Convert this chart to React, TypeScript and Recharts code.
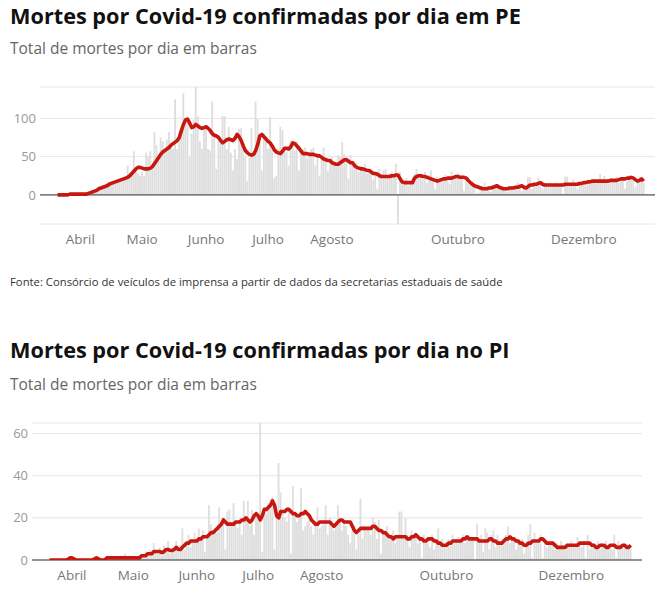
import React from 'react';
import { ComposedChart, Bar, Line, XAxis, YAxis, CartesianGrid, ReferenceLine } from 'recharts';

// Day index 0 = 21 March 2020
const MONTH_TICKS = [11, 41, 72, 102, 133, 194, 255];
const MONTH_LABELS = ['Abril', 'Maio', 'Junho', 'Julho', 'Agosto', 'Outubro', 'Dezembro'];
const PE_Y_TICKS = [0, 50, 100];
const PI_Y_TICKS = [0, 20, 40, 60];

const PE_BARS = [
  0, 0, 0, 0, 1, 0, 1, 0, 1, 2,
  1, 1, 0, 2, 1, 3, 2, 4, 5, 6,
  8, 7, 10, 12, 9, 15, 14, 16, 18, 20,
  17, 22, 20, 25, 38, 27, 30, 57, 33, 28,
  25, 30, 25, 55, 50, 57, 40, 82, 65, 45,
  75, 70, 58, 72, 82, 68, 60, 125, 60, 75,
  80, 133, 100, 95, 49, 80, 98, 141, 103, 70,
  60, 85, 90, 60, 58, 122, 80, 34, 70, 75,
  103, 103, 60, 89, 55, 32, 60, 47, 86, 87,
  60, 50, 18, 48, 87, 55, 122, 99, 70, 32,
  80, 70, 60, 101, 60, 22, 25, 60, 89, 85,
  60, 56, 38, 71, 65, 58, 70, 32, 55, 60,
  62, 48, 51, 60, 62, 38, 55, 25, 50, 62,
  48, 31, 45, 50, 40, 38, 52, 50, 69, 53,
  50, 21, 52, 45, 40, 42, 30, 38, 35, 40,
  28, 34, 30, 20, 30, 8, 34, 28, 32, 34,
  22, 28, 30, 24, 41, -38, 30, 20, 15, 22,
  12, 18, 20, 28, 34, 22, 28, 20, 30, 16,
  26, 32, 22, 8, 24, 20, 18, 22, 26, 20,
  15, 31, 20, 24, 28, 22, 25, 5, 24, 15,
  12, 18, 10, 2, 3, 10, 12, 16, 8, 6,
  4, 10, 14, 12, 8, 6, 10, 9, 4, 10,
  12, 6, 12, 16, 10, 5, 12, 9, 23, 23,
  8, 15, 14, 22, 16, 8, 12, 15, 10, 16,
  14, 12, 16, 13, 15, 2, 24, 24, 15, 12,
  20, 14, 8, 18, 16, 17, 12, 20, 14, 21,
  18, 15, 20, 27, 16, 25, 20, 14, 22, 18,
  20, 24, 16, 20, 22, 8, 18, 26, 22, 20,
  10, 18, 24, 20, 16,
];

const PE_LINE = [
  0, 0, 0, 0, 0, 0, 1, 1, 1, 1,
  1, 1, 1, 1, 1, 2, 3, 4, 5, 6,
  8, 9, 10, 11, 12, 14, 15, 16, 17, 18,
  19, 20, 21, 22, 23, 25, 28, 31, 34, 36,
  36, 35, 34, 34, 34, 35, 37, 41, 45, 49,
  53, 56, 58, 60, 62, 65, 67, 69, 71, 75,
  84, 92, 98, 99, 94, 88, 89, 92, 90, 88,
  87, 88, 89, 87, 84, 80, 78, 77, 75, 71,
  68, 70, 72, 73, 72, 71, 74, 79, 76, 71,
  64, 58, 55, 53, 52, 53, 58, 66, 77, 79,
  76, 73, 70, 68, 64, 59, 56, 55, 54, 57,
  61, 61, 60, 63, 68, 67, 64, 61, 57, 54,
  54, 54, 53, 53, 53, 52, 51, 51, 49, 47,
  46, 45, 45, 42, 41, 40, 40, 42, 44, 46,
  46, 44, 42, 42, 38, 36, 35, 34, 34, 33,
  32, 32, 30, 28, 28, 27, 25, 24, 24, 24,
  24, 24, 25, 25, 26, 26, 21, 17, 16, 16,
  16, 16, 16, 22, 24, 25, 25, 24, 24, 23,
  22, 21, 20, 19, 18, 19, 20, 21, 21, 22,
  22, 22, 23, 24, 24, 23, 23, 23, 22, 19,
  16, 14, 12, 11, 10, 9, 8, 8, 8, 9,
  9, 10, 11, 12, 10, 9, 8, 8, 8, 9,
  9, 9, 10, 10, 11, 12, 10, 9, 11, 13,
  13, 14, 14, 15, 16, 14, 13, 13, 13, 13,
  13, 13, 13, 13, 13, 13, 14, 14, 14, 14,
  14, 14, 14, 15, 15, 16, 16, 17, 17, 18,
  18, 18, 18, 18, 18, 18, 18, 18, 19, 19,
  19, 19, 20, 21, 21, 21, 22, 22, 23, 22,
  20, 18, 19, 21, 18,
];

const PI_BARS = [
  0, 0, 0, 0, 0, 0, 0, 0, 0, 0,
  1, 1, 0, 0, 0, 0, 0, 0, 0, 0,
  0, 0, 1, 0, 0, 0, 0, 0, 1, 0,
  1, 2, 1, 0, 1, 2, 1, 3, 1, 0,
  1, 2, 1, 1, 2, 3, 2, 4, 2, 5,
  3, 8, 4, 3, 6, 2, 7, 5, 9, 3,
  4, 6, 9, 4, 7, 15, 5, 8, 12, 6,
  9, 13, 10, 15, 11, 14, 4, 12, 26, 17,
  14, 15, 13, 25, 18, 20, 5, 23, 24, 16,
  27, 18, 15, 19, 12, 28, 20, 28, 16, 24,
  12, 23, 20, 65, 4, 25, 22, 27, 29, 30,
  5, 20, 46, 32, 22, 20, 18, 24, 3, 35,
  22, 18, 20, 34, 14, 16, 18, 22, 16, 12,
  18, 25, 15, 16, 18, 26, 12, 20, 16, 14,
  18, 26, 18, 14, 19, 16, 12, 8, 14, 16,
  5, 12, 29, 10, 16, 14, 16, 12, 20, 18,
  10, 19, 3, 14, 12, 16, 10, 12, 14, 8,
  12, 23, 23, 10, 20, 12, 6, 14, 10, 12,
  8, 10, 1, 12, 10, 8, 6, 12, 5, 10,
  15, 8, 10, 6, 9, 10, 7, 12, 8, 10,
  11, 9, 12, 8, 11, 12, 9, 10, 0, 17,
  10, 12, 4, 15, 13, 5, 12, 14, 6, 12,
  9, 7, 10, 12, 16, 8, 11, 9, 5, 10,
  8, 10, 3, 9, 12, 17, 1, 13, 8, 10,
  12, 1, 9, 6, 8, 7, 9, 5, 8, 6,
  9, 7, 5, 8, 6, 9, 7, 6, 11, 8,
  6, 9, 1, 12, 5, 7, 8, 6, 9, 5,
  8, 7, 9, 6, 7, 5, 12, 1, 9, 7,
  6, 8, 5, 7, 5,
];

const PI_LINE = [
  0, 0, 0, 0, 0, 0, 0, 0, 0, 0.3,
  1, 1, 0.5, 0, 0, 0, 0, 0, 0, 0,
  0, 0, 0.5, 1, 0.5, 0, 0, 0, 1, 1,
  1, 1, 1, 1, 1, 1, 1, 1, 1, 1,
  1, 1, 1, 1, 1, 2, 2, 2, 3, 3,
  3, 4, 4, 4, 4, 3.5, 4, 5, 5, 4.5,
  4.5, 5, 6, 5, 5, 6, 7, 8, 8, 9,
  9, 9, 9, 10, 10, 11, 11, 11, 12, 13,
  13, 14, 15, 16, 17, 19, 18, 17, 17, 17,
  17, 18, 18, 18, 19, 19, 20, 19, 18, 19,
  21, 22, 21, 19, 21, 24, 24, 25, 26, 28,
  26, 21, 20, 23, 23, 23, 24, 24, 23, 22,
  22, 21, 21, 22, 22, 23, 22, 21, 19, 18,
  17, 17, 18, 18, 18, 18, 18, 18, 17, 16,
  17, 18, 19, 19, 18, 18, 18, 18, 16, 14,
  13, 14, 15, 15, 15, 15, 15, 15, 16, 16,
  15, 14, 14, 13, 13, 12, 11, 11, 10, 11,
  11, 11, 11, 11, 11, 10, 10, 11, 11, 12,
  11, 10, 10, 9, 9, 10, 10, 10, 9, 9,
  8, 8, 7, 7, 7, 8, 8, 9, 9, 9,
  9, 9, 10, 10, 11, 10, 10, 10, 10, 10,
  9, 9, 9, 9, 9, 10, 10, 9, 9, 8,
  8, 8, 9, 10, 10, 11, 10, 10, 9, 9,
  8, 8, 7, 7, 8, 8, 9, 9, 9, 9,
  10, 10, 9, 8, 8, 8, 8, 7, 6, 6,
  6, 6, 6, 7, 7, 7, 7, 7, 7, 8,
  8, 8, 8, 8, 8, 7, 7, 6, 6, 7,
  7, 7, 6, 6, 7, 7, 7, 6, 6, 6,
  7, 7, 6, 6, 7,
];

const buildRows = (bars: number[], line: number[]) =>
  bars.map((b, i) => ({ d: i, bar: b, avg: line[i] }));

const PE_ROWS = buildRows(PE_BARS, PE_LINE);
const PI_ROWS = buildRows(PI_BARS, PI_LINE);

type ChartProps = {
  rows: { d: number; bar: number; avg: number }[];
  yTicks: number[];
  yWidth: number;
  marginRight: number;
  tickGap: number;
};

function DeathChart({ rows, yTicks, yWidth, marginRight, tickGap }: ChartProps) {
  const vals = rows.flatMap((r) => [r.bar, r.avg]);
  const yMin = Math.min(...vals);
  const yMax = Math.max(...vals);
  return (
    <ComposedChart
      width={670}
      height={174}
      data={rows}
      margin={{ top: 7, right: marginRight, bottom: 0, left: 0 }}
    >
      <CartesianGrid vertical={false} stroke="#e6e6e6" />
      <XAxis
        type="number"
        dataKey="d"
        domain={[-8.5, 289.5]}
        ticks={MONTH_TICKS}
        interval={0}
        tickFormatter={(v: number) => MONTH_LABELS[MONTH_TICKS.indexOf(v)] ?? ''}
        axisLine={false}
        tickLine={false}
        tickSize={0}
        tickMargin={tickGap}
        height={30}
        allowDataOverflow
        tick={{ fontSize: 13.5, fill: '#777' }}
      />
      <YAxis
        type="number"
        domain={[yMin, yMax]}
        ticks={yTicks}
        interval={0}
        width={yWidth}
        axisLine={false}
        tickLine={false}
        tickSize={0}
        tickMargin={4}
        allowDataOverflow
        tick={{ fontSize: 13, fill: '#999' }}
      />
      <Bar dataKey="bar" fill="#dedede" barSize={2.1} isAnimationActive={false} />
      <ReferenceLine y={0} stroke="#333" strokeWidth={1} />
      <Line
        dataKey="avg"
        type="linear"
        stroke="#c8170f"
        strokeWidth={3.6}
        strokeLinejoin="round"
        dot={false}
        activeDot={false}
        isAnimationActive={false}
      />
    </ComposedChart>
  );
}

const titleStyle: React.CSSProperties = {
  position: 'absolute',
  left: 10,
  fontSize: 21.7,
  lineHeight: '24px',
  fontWeight: 700,
  color: '#111',
  whiteSpace: 'nowrap',
};
const subStyle: React.CSSProperties = {
  position: 'absolute',
  left: 10,
  fontSize: 15.5,
  lineHeight: '22px',
  color: '#666',
  whiteSpace: 'nowrap',
};

export default function App() {
  return (
    <div
      style={{
        position: 'absolute',
        left: 0,
        top: 0,
        width: 670,
        height: 596,
        background: '#fff',
        fontFamily: "'Open Sans', sans-serif",
      }}
    >
      <div style={{ ...titleStyle, top: 3.5 }}>Mortes por Covid-19 confirmadas por dia em PE</div>
      <div style={{ ...subStyle, top: 36.5 }}>Total de mortes por dia em barras</div>
      <div style={{ position: 'absolute', left: 0, top: 80 }}>
        <DeathChart rows={PE_ROWS} yTicks={PE_Y_TICKS} yWidth={40} marginRight={15} tickGap={10} />
      </div>
      <div
        style={{
          position: 'absolute',
          left: 10,
          top: 273.5,
          fontSize: 11.3,
          lineHeight: '16px',
          color: '#333',
          whiteSpace: 'nowrap',
        }}
      >
        Fonte: Consórcio de veículos de imprensa a partir de dados da secretarias estaduais de saúde
      </div>
      <div style={{ ...titleStyle, top: 338 }}>Mortes por Covid-19 confirmadas por dia no PI</div>
      <div style={{ ...subStyle, top: 373 }}>Total de mortes por dia em barras</div>
      <div style={{ position: 'absolute', left: 0, top: 416 }}>
        <DeathChart rows={PI_ROWS} yTicks={PI_Y_TICKS} yWidth={32} marginRight={28} tickGap={10} />
      </div>
    </div>
  );
}
